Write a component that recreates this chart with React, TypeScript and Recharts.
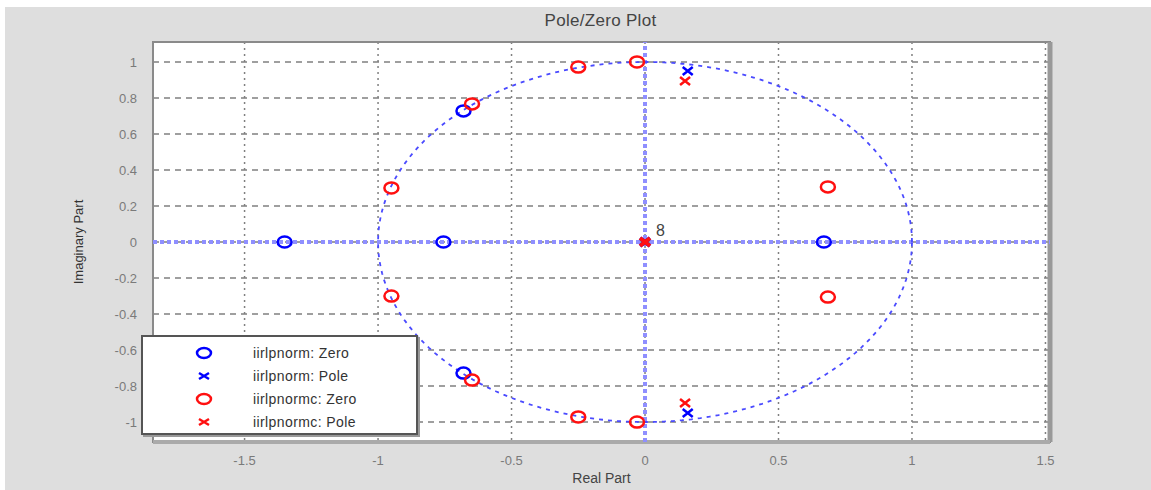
import {
  ScatterChart,
  Scatter,
  XAxis,
  YAxis,
  CartesianGrid,
  ReferenceLine,
  ReferenceArea,
  Label,
} from "recharts";

// iirlpnorm (blue) and iirlpnormc (red) zeros / poles
const blueZeroRe = [-1.35, -0.755, 0.67, -0.68, -0.68];
const blueZeroIm = [0, 0, 0, 0.728, -0.728];
const bluePoleRe = [0, 0.16, 0.16];
const bluePoleIm = [0, 0.95, -0.95];
const bluePoleMult = [8, 1, 1];

const redZeroRe = [-0.03, -0.03, -0.25, -0.25, -0.648, -0.648, -0.95, -0.95, 0.685, 0.685];
const redZeroIm = [1.0, -1.0, 0.972, -0.972, 0.767, -0.767, 0.3, -0.3, 0.306, -0.306];
const redPoleRe = [0, 0.15, 0.15];
const redPoleIm = [0, 0.894, -0.894];
const redPoleMult = [8, 1, 1];

const xTicks = [-1.5, -1, -0.5, 0, 0.5, 1, 1.5];
const yTicks = [-1, -0.8, -0.6, -0.4, -0.2, 0, 0.2, 0.4, 0.6, 0.8, 1];
const xDomain = [-1.843, 1.517];
const yDomain = [-1.111, 1.111];

const legendNames = [
  "iirlpnorm: Zero",
  "iirlpnorm: Pole",
  "iirlpnormc: Zero",
  "iirlpnormc: Pole",
];

const BLUE = "#0000ff";
const RED = "#ff1010";
const FONT = "'Liberation Sans', Arial, sans-serif";

const toPts = (re: number[], im: number[], m?: number[]) =>
  re.map((x, i) => ({ x, y: im[i], m: m ? m[i] : 1 }));

// unit circle reference
const circle = Array.from({ length: 181 }, (_, i) => {
  const t = (i / 180) * 2 * Math.PI;
  return { x: Math.cos(t), y: Math.sin(t) };
});

const zeroShape = (color: string) => (p: any) =>
  (
    <ellipse
      cx={p.cx}
      cy={p.cy}
      rx={7}
      ry={5.5}
      fill="none"
      stroke={color}
      strokeWidth={2.5}
    />
  );

const poleShape = (color: string, showMult: boolean) => (p: any) =>
  (
    <g>
      <path
        d={`M${p.cx - 5},${p.cy - 4}L${p.cx + 5},${p.cy + 4}M${p.cx - 5},${p.cy + 4}L${p.cx + 5},${p.cy - 4}`}
        stroke={color}
        strokeWidth={p.payload.m > 1 ? 4 : 2.5}
        fill="none"
      />
      {showMult && p.payload.m > 1 && (
        <text
          x={p.cx + 11}
          y={p.cy - 6}
          fontSize={16}
          fill="#444"
          fontFamily={FONT}
        >
          {p.payload.m}
        </text>
      )}
    </g>
  );

function LegendBox() {
  const colors = [BLUE, BLUE, RED, RED];
  return (
    <div
      style={{
        position: "absolute",
        left: 141,
        top: 335,
        width: 273,
        height: 96,
        background: "#fff",
        border: "2px solid #555",
        boxShadow: "2px 2px 0 #999",
        fontFamily: FONT,
        fontSize: 14,
        color: "#333",
      }}
    >
      {legendNames.map((name, i) => (
        <div
          key={name}
          style={{
            position: "absolute",
            top: 6 + i * 23,
            left: 0,
            height: 20,
            display: "flex",
            alignItems: "center",
          }}
        >
          <svg width={110} height={20}>
            {i % 2 === 0 ? (
              <ellipse cx={61} cy={10} rx={7} ry={5} fill="none" stroke={colors[i]} strokeWidth={2.5} />
            ) : (
              <path d="M56,7L66,13M56,13L66,7" stroke={colors[i]} strokeWidth={2.5} />
            )}
          </svg>
          <span style={{ whiteSpace: "nowrap", letterSpacing: 0.4 }}>{name}</span>
        </div>
      ))}
    </div>
  );
}

export default function App() {
  return (
    <div
      style={{
        position: "absolute",
        left: 0,
        top: 0,
        width: 1151,
        height: 490,
        background: "#fff",
      }}
    >
      <div
        style={{
          position: "absolute",
          left: 5,
          top: 7,
          width: 1146,
          height: 483,
          background: "#dedede",
        }}
      />
      <div
        style={{
          position: "absolute",
          left: 0,
          top: 11,
          width: 1151,
          textAlign: "center",
          paddingLeft: 50,
          boxSizing: "border-box",
          fontFamily: FONT,
          fontSize: 17,
          letterSpacing: 0.3,
          color: "#444",
        }}
      >
        Pole/Zero Plot
      </div>
      <div style={{ position: "absolute", left: 0, top: 0 }}>
        <ScatterChart
          width={1151}
          height={490}
          margin={{ top: 42, right: 101, bottom: 3, left: 0 }}
        >
          <CartesianGrid
            horizontal={false}
            stroke="#808080"
            strokeWidth={1.5}
            strokeDasharray="2 4"
            fill="#fff"
          />
          <CartesianGrid
            vertical={false}
            stroke="#808080"
            strokeWidth={1.5}
            strokeDasharray="6 5"
          />
          <XAxis
            type="number"
            dataKey="x"
            domain={xDomain}
            ticks={xTicks}
            allowDataOverflow
            height={45}
            tickLine={false}
            axisLine={false}
            tickMargin={8}
            tick={{ fill: "#7a7a7a", fontSize: 13, fontFamily: FONT }}
          >
            <Label
              value="Real Part"
              position="insideBottom"
              offset={4}
              style={{ fill: "#444", fontSize: 14, fontFamily: FONT }}
            />
          </XAxis>
          <YAxis
            type="number"
            dataKey="y"
            domain={yDomain}
            ticks={yTicks}
            allowDataOverflow
            width={153}
            tickLine={false}
            axisLine={false}
            tickMargin={10}
            tick={{ fill: "#7a7a7a", fontSize: 13, fontFamily: FONT }}
          >
            <Label
              value="Imaginary Part"
              angle={-90}
              position="insideLeft"
              offset={78}
              style={{
                fill: "#333",
                fontSize: 13,
                fontFamily: FONT,
                textAnchor: "middle",
              }}
            />
          </YAxis>
          <ReferenceArea
            x1={xDomain[0]}
            x2={xDomain[1]}
            y1={yDomain[0]}
            y2={yDomain[1]}
            fill="none"
            stroke="#8a8a8a"
            strokeWidth={2}
            ifOverflow="visible"
          />
          <ReferenceLine x={xDomain[1]} stroke="#999" strokeWidth={5} ifOverflow="visible" />
          <ReferenceLine y={yDomain[0]} stroke="#aaa" strokeWidth={4} ifOverflow="visible" />
          <ReferenceLine x={0} stroke="#8f8fff" strokeWidth={4} strokeDasharray="4 3" />
          <ReferenceLine y={0} stroke="#8f8fff" strokeWidth={4} strokeDasharray="4 3" />
          <Scatter
            name="unit circle"
            data={circle}
            line={{ stroke: "#4a4aff", strokeWidth: 1.8, strokeDasharray: "4 5" }}
            lineType="joint"
            shape={() => <g />}
            isAnimationActive={false}
          />
          <Scatter
            name={legendNames[0]}
            data={toPts(blueZeroRe, blueZeroIm)}
            shape={zeroShape(BLUE)}
            isAnimationActive={false}
          />
          <Scatter
            name={legendNames[2]}
            data={toPts(redZeroRe, redZeroIm)}
            shape={zeroShape(RED)}
            isAnimationActive={false}
          />
          <Scatter
            name={legendNames[1]}
            data={toPts(bluePoleRe, bluePoleIm, bluePoleMult)}
            shape={poleShape(BLUE, false)}
            isAnimationActive={false}
          />
          <Scatter
            name={legendNames[3]}
            data={toPts(redPoleRe, redPoleIm, redPoleMult)}
            shape={poleShape(RED, true)}
            isAnimationActive={false}
          />
        </ScatterChart>
      </div>
      <LegendBox />
    </div>
  );
}
